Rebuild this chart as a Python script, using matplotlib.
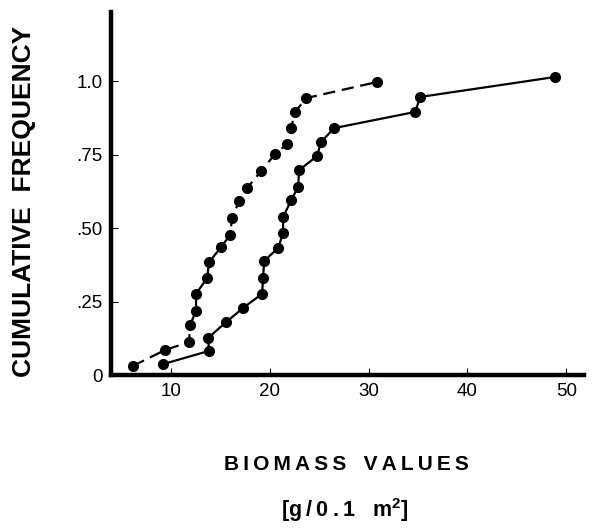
"""
Cumulative frequency of biomass values, two samples
"""
import matplotlib
matplotlib.use('Agg')
import matplotlib.pyplot as plt

# dashed curve (left)
biomass_a = [6.15, 9.39, 11.82, 11.92, 12.53, 12.53, 13.65, 13.85, 15.06, 15.97,
             16.18, 16.89, 17.70, 19.11, 20.53, 21.75, 22.15, 22.56, 23.67, 30.86]
cumfreq_a = [0.031, 0.085, 0.112, 0.170, 0.218, 0.276, 0.330, 0.384, 0.435, 0.476,
             0.534, 0.592, 0.636, 0.694, 0.752, 0.786, 0.840, 0.895, 0.942, 0.997]

# solid curve (right)
biomass_b = [9.19, 13.85, 13.75, 15.57, 17.29, 19.21, 19.32, 19.42, 20.84, 21.34,
             21.34, 22.15, 22.86, 22.96, 24.78, 25.19, 26.51, 34.71, 35.22, 48.89]
cumfreq_b = [0.037, 0.082, 0.126, 0.180, 0.228, 0.276, 0.330, 0.388, 0.432, 0.483,
             0.537, 0.595, 0.639, 0.697, 0.745, 0.793, 0.840, 0.895, 0.946, 1.014]

x_ticks = [10, 20, 30, 40, 50]
y_ticks = [0, 0.25, 0.50, 0.75, 1.0]
y_ticklabels = ['0', '.25', '.50', '.75', '1.0']

FONT = ['Liberation Sans', 'DejaVu Sans']
plt.rcParams['font.family'] = FONT
plt.rcParams['mathtext.fontset'] = 'custom'
plt.rcParams['mathtext.rm'] = 'Liberation Sans'
plt.rcParams['mathtext.bf'] = 'Liberation Sans:bold'

W, H = 593, 528
fig = plt.figure(figsize=(W/100., H/100.), dpi=100)
# axes box in pixels: left 111, right 584, top 12, bottom 375
ax = fig.add_axes([111./W, 1-375./H, (584-111.)/W, (375-12.)/H])

ax.plot(biomass_a, cumfreq_a, color='black', lw=1.6, ls=(0, (5.5, 3)),
        marker='o', ms=7, mfc='black', mec='black', clip_on=False)
ax.plot(biomass_b, cumfreq_b, color='black', lw=1.6, ls='-',
        marker='o', ms=7, mfc='black', mec='black', clip_on=False)

ax.set_xlim(3.92, 51.8)
ax.set_ylim(0, 1.235)

for s in ['top', 'right']:
  ax.spines[s].set_visible(False)
for s in ['left', 'bottom']:
  ax.spines[s].set_linewidth(3.2)
  ax.spines[s].set_capstyle('projecting')

ax.set_xticks(x_ticks)
ax.set_xticklabels([str(v) for v in x_ticks])
ax.set_yticks(y_ticks)
ax.set_yticklabels(y_ticklabels)
ax.tick_params(direction='in', length=5, width=0.8, labelsize=13.5, pad=6)

def spaced(txt, sep='\u2009'):
  return sep.join(txt)

fig.text(24./W, 1-201./H, 'CUMULATIVE  FREQUENCY', rotation=90,
         ha='center', va='center', fontsize=19, fontweight='bold')
fig.text(346./W, 1-465./H, spaced('BIOMASS') + '   ' + spaced('VALUES'),
         ha='center', va='center', fontsize=15, fontweight='bold')
fig.text(345./W, 1-510./H,
         '[' + spaced('g/0.1') + '   m$^{\\mathbf{2}}$' + ']',
         ha='center', va='center', fontsize=15.5, fontweight='bold')

fig.savefig('out.png', dpi=100)
